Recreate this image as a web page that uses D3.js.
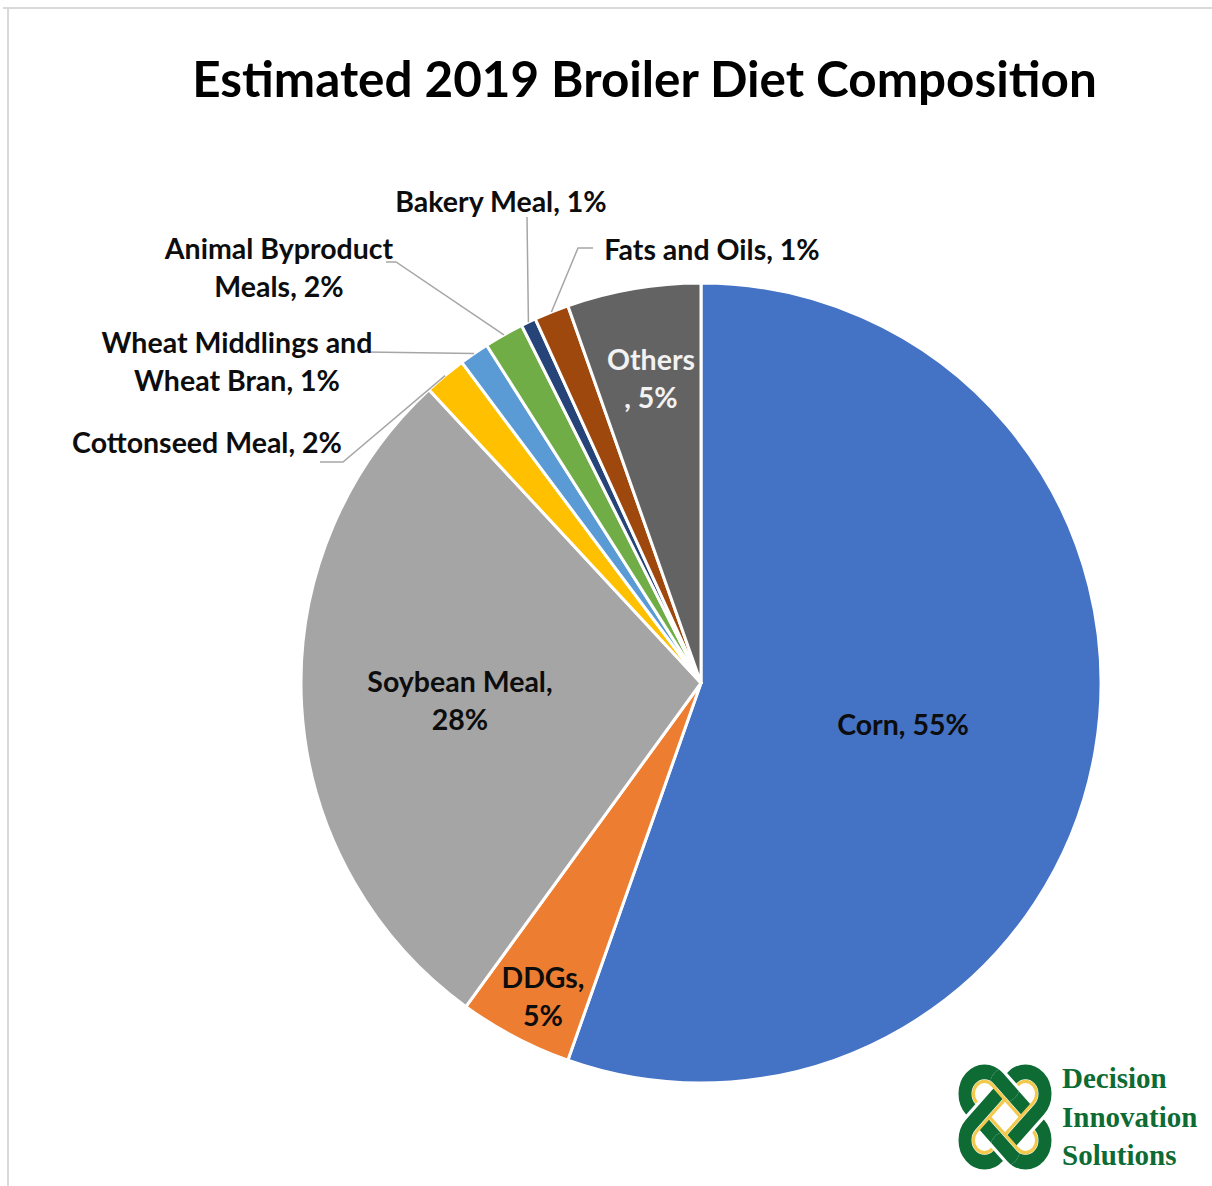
<!DOCTYPE html>
<html>
<head>
<meta charset="utf-8">
<script src="https://cdn.jsdelivr.net/npm/d3@7"></script>
<style>
  html, body { margin: 0; padding: 0; background: #fff; }
  svg { display: block; }
</style>
</head>
<body>
<svg id="chart" width="1212" height="1186"></svg>
<script>
// Diet components, clockwise from 12 o'clock
const categories = [
  "Corn", "DDGs", "Soybean Meal", "Cottonseed Meal",
  "Wheat Middlings and Wheat Bran", "Animal Byproduct Meals",
  "Bakery Meal", "Fats and Oils", "Others"
];
// Share of the ration, percent
const shares = [55.4, 4.6, 28.1, 1.7, 1.2, 1.6, 0.6, 1.4, 5.4];
const sliceColors = [
  "#4472C4", "#ED7D31", "#A5A5A5", "#FFC000",
  "#5B9BD5", "#70AD47", "#264478", "#9E480E", "#636363"
];
const titleText = "Estimated 2019 Broiler Diet Composition";
const brandLines = ["Decision", "Innovation", "Solutions"];

const W = 1212, H = 1186;
const cx = 701, cy = 683, R = 400;

const svg = d3.select("#chart");

// light frame along the top and left edges
svg.append("line").attr("x1", 3).attr("y1", 8).attr("x2", W).attr("y2", 8)
  .attr("stroke", "#D9D9D9").attr("stroke-width", 2);
svg.append("line").attr("x1", 8).attr("y1", 7).attr("x2", 8).attr("y2", H)
  .attr("stroke", "#D9D9D9").attr("stroke-width", 2);

// title, sized to span its box
const title = svg.append("text")
  .attr("x", 644.5).attr("y", 97)
  .attr("text-anchor", "middle")
  .attr("font-family", "Lato, 'Open Sans', sans-serif")
  .attr("font-weight", 700)
  .attr("font-size", 48)
  .attr("fill", "#000")
  .text(titleText);
{
  const len = title.node().getComputedTextLength();
  title.attr("font-size", 48 * 905 / len);
}

// pie
const data = categories.map((c, i) => ({ name: c, value: shares[i], color: sliceColors[i] }));
const pie = d3.pie().value(d => d.value).sort(null).startAngle(0).endAngle(2 * Math.PI);
const arcs = pie(data);
const arc = d3.arc().innerRadius(0).outerRadius(R);

const g = svg.append("g").attr("transform", `translate(${cx},${cy})`);
g.selectAll("path.slice")
  .data(arcs)
  .join("path")
  .attr("class", "slice")
  .attr("d", arc)
  .attr("fill", d => d.data.color)
  .attr("stroke", "#fff")
  .attr("stroke-width", 3)
  .attr("stroke-linejoin", "round");

// label layout: anchor point, line split, leader elbows
const labelLayout = {
  "Corn":            { x: 903, y: 724, split: null, fill: "#0D0D0D" },
  "DDGs":            { x: 543, y: 977, split: 5,    fill: "#0D0D0D" },
  "Soybean Meal":    { x: 460, y: 681, split: 13,   fill: "#0D0D0D" },
  "Others":          { x: 651, y: 359, split: 6,    fill: "#F2F2F2", keepSpace: true },
  "Cottonseed Meal": { x: 207, y: 442, split: null, fill: "#0D0D0D",
                       leader: [[320, 462], [343, 462]] },
  "Wheat Middlings and Wheat Bran": { x: 237, y: 342, split: 19, fill: "#0D0D0D",
                       leader: [[366, 352]] },
  "Animal Byproduct Meals": { x: 279, y: 248, split: 16, fill: "#0D0D0D",
                       leader: [[386, 262], [396, 262]] },
  "Bakery Meal":     { x: 501, y: 201, split: null, fill: "#0D0D0D",
                       leader: [[527, 217]] },
  "Fats and Oils":   { x: 712, y: 249, split: null, fill: "#0D0D0D",
                       leader: [[593, 248], [578, 248]] }
};
const lineGap = 38;

const leaders = svg.append("g");
const labels = svg.append("g")
  .attr("font-family", "Lato, 'Open Sans', sans-serif")
  .attr("font-weight", 700)
  .attr("font-size", 28.5);

arcs.forEach(a => {
  const lay = labelLayout[a.data.name];
  const full = `${a.data.name}, ${Math.round(a.data.value)}%`;
  let lines = [full];
  if (lay.split !== null) {
    lines = lay.keepSpace
      ? [full.slice(0, lay.split), full.slice(lay.split)]
      : [full.slice(0, lay.split).trim(), full.slice(lay.split).trim()];
  }
  const t = labels.append("text")
    .attr("text-anchor", "middle")
    .attr("fill", lay.fill);
  lines.forEach((ln, i) => {
    t.append("tspan")
      .attr("x", lay.x)
      .attr("y", lay.y + i * lineGap)
      .attr("dominant-baseline", "central")
      .text(ln);
  });
  if (lay.leader) {
    const mid = (a.startAngle + a.endAngle) / 2;
    const edge = [cx + R * Math.sin(mid), cy - R * Math.cos(mid)];
    leaders.append("path")
      .attr("d", d3.line()(lay.leader.concat([edge])))
      .attr("fill", "none")
      .attr("stroke", "#A6A6A6")
      .attr("stroke-width", 1.5);
  }
});

// brand mark: two interlaced rounded loops
const green = "#0E6B34", gold = "#F2C94C";
const stadium = (a, r) =>
  `M${-a},${-r} L${a},${-r} A${r},${r} 0 0 1 ${a},${r} L${-a},${r} A${r},${r} 0 0 1 ${-a},${-r} Z`;
const logo = svg.append("g").attr("transform", "translate(1005,1117) scale(1,1.13)");
const defs = svg.append("defs");
const clip = defs.append("clipPath").attr("id", "overA");
clip.append("circle").attr("cx", 0).attr("cy", -28.3).attr("r", 15);
clip.append("circle").attr("cx", 0).attr("cy", 28.3).attr("r", 15);

function loop(parent, angle, halo) {
  const lg = parent.append("g").attr("transform", `rotate(${angle})`);
  if (halo) {
    lg.append("path").attr("d", stadium(29, 19.5)).attr("fill", "none")
      .attr("stroke", "#fff").attr("stroke-width", 19);
  }
  lg.append("path").attr("d", stadium(29, 19.5)).attr("fill", "none")
    .attr("stroke", green).attr("stroke-width", 13);
  lg.append("path").attr("d", stadium(29, 11)).attr("fill", "none")
    .attr("stroke", gold).attr("stroke-width", 3);
  return lg;
}
loop(logo, 45, false);
loop(logo, -45, true);
loop(logo.append("g").attr("clip-path", "url(#overA)"), 45, true);

svg.append("g")
  .attr("font-family", "'Liberation Serif', 'DejaVu Serif', serif")
  .attr("font-weight", 700)
  .attr("font-size", 29)
  .attr("fill", green)
  .selectAll("text")
  .data(brandLines)
  .join("text")
  .attr("x", 1062)
  .attr("y", (d, i) => 1088 + i * 38.5)
  .text(d => d);
</script>
</body>
</html>
